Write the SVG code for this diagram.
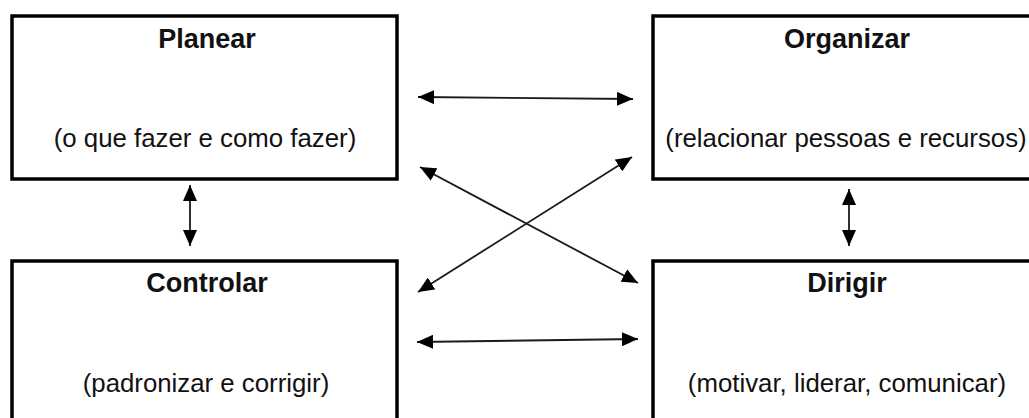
<svg xmlns="http://www.w3.org/2000/svg" width="1029" height="418" viewBox="0 0 1029 418">
  <style>
    .box { fill: #ffffff; stroke: #000000; stroke-width: 3.5; }
    .title { font-family: "Liberation Sans", Arial, sans-serif; font-size: 27px; font-weight: bold; fill: #111111; text-anchor: middle; }
    .sub { font-family: "Liberation Sans", Arial, sans-serif; font-size: 25.8px; fill: #111111; text-anchor: middle; }
    .link { fill: none; stroke: #1a1a1a; stroke-width: 1.8; marker-start: url(#head); marker-end: url(#head); }
  </style>
  <defs>
    <marker id="head" markerUnits="userSpaceOnUse" viewBox="0 0 16 14" refX="16" refY="7" markerWidth="16" markerHeight="14" orient="auto-start-reverse">
      <path d="M0,0 L16,7 L0,14 Z" fill="#000000"/>
    </marker>
  </defs>
  <rect width="1029" height="418" fill="#ffffff"/>

  <g id="planear">
    <rect class="box" x="12" y="16" width="385" height="163"/>
    <text class="title" x="207" y="48">Planear</text>
    <text class="sub" x="205" y="147">(o que fazer e como fazer)</text>
  </g>

  <g id="organizar">
    <rect class="box" x="653" y="16" width="392" height="163"/>
    <text class="title" x="847" y="48">Organizar</text>
    <text class="sub" x="846" y="147">(relacionar pessoas e recursos)</text>
  </g>

  <g id="controlar">
    <rect class="box" x="12" y="261" width="385" height="200"/>
    <text class="title" x="207" y="292">Controlar</text>
    <text class="sub" x="206" y="392">(padronizar e corrigir)</text>
  </g>

  <g id="dirigir">
    <rect class="box" x="653" y="261" width="392" height="200"/>
    <text class="title" x="847" y="292">Dirigir</text>
    <text class="sub" x="847" y="392">(motivar, liderar, comunicar)</text>
  </g>

  <g id="connectors">
    <line class="link" x1="418" y1="97" x2="633" y2="99"/>
    <line class="link" x1="420" y1="167" x2="638" y2="283"/>
    <line class="link" x1="418" y1="292" x2="632" y2="157"/>
    <line class="link" x1="417" y1="342" x2="638" y2="339"/>
    <line class="link" x1="190" y1="185" x2="190" y2="246"/>
    <line class="link" x1="849" y1="189" x2="849" y2="246"/>
  </g>
</svg>
